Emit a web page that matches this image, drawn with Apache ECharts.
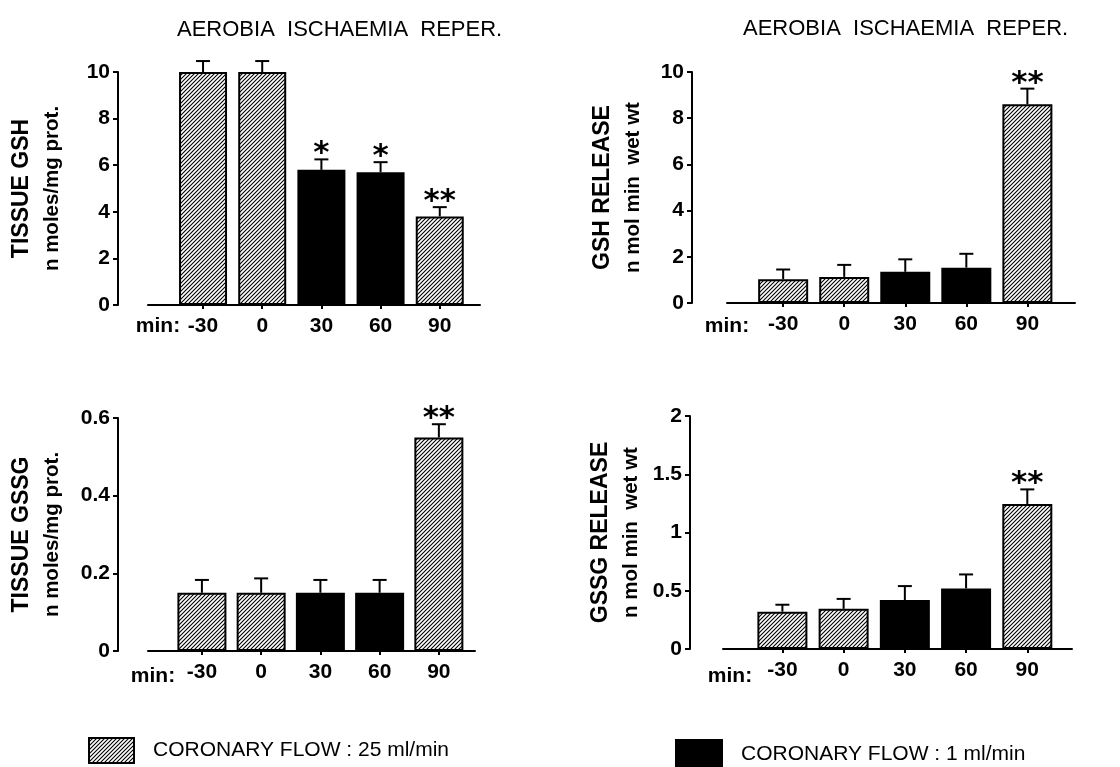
<!DOCTYPE html>
<html><head><meta charset="utf-8">
<script src="https://cdn.jsdelivr.net/npm/echarts@6/dist/echarts.min.js"></script>
<style>html,body{margin:0;padding:0;background:#fff}#c{width:1120px;height:767px}</style>
</head><body><div id="c"></div>
<script>
// ---------------- data ----------------
const categories = ['-30', '0', '30', '60', '90'];
const flowOfCategory = [25, 25, 1, 1, 25];           // coronary flow (ml/min) for each time point
const flowNames = { 25: 'CORONARY FLOW : 25 ml/min', 1: 'CORONARY FLOW : 1 ml/min' };
const phaseTitle = 'AEROBIA  ISCHAEMIA  REPER.';
const axisPrefix = 'min:';

const tissueGSH      = [10.0, 10.0, 5.8, 5.7, 3.8];
const tissueGSHErr   = [0.47, 0.47, 0.45, 0.43, 0.40];
const tissueGSHStars = ['', '', '*', '*', '**'];
const tissueGSHTicks = { max: 10, interval: 2 };

const gshRelease      = [1.03, 1.13, 1.35, 1.53, 8.6];
const gshReleaseErr   = [0.42, 0.52, 0.54, 0.60, 0.68];
const gshReleaseStars = ['', '', '', '', '**'];
const gshReleaseTicks = { max: 10, interval: 2 };

const tissueGSSG      = [0.15, 0.15, 0.15, 0.15, 0.55];
const tissueGSSGErr   = [0.033, 0.037, 0.033, 0.033, 0.034];
const tissueGSSGStars = ['', '', '', '', '**'];
const tissueGSSGTicks = { max: 0.6, interval: 0.2 };

const gssgRelease      = [0.32, 0.345, 0.42, 0.52, 1.245];
const gssgReleaseErr   = [0.06, 0.085, 0.12, 0.12, 0.125];
const gssgReleaseStars = ['', '', '', '', '**'];
const gssgReleaseTicks = { max: 2, interval: 0.5 };

// ---------------- layout / styles ----------------
const FONT = '"Liberation Sans", Arial, Helvetica, sans-serif';
const STAR_FONT = 'bold 31px "DejaVu Sans", sans-serif';

function hatchCanvas() {
  const s = 4;
  const c = document.createElement('canvas');
  c.width = s; c.height = s;
  const g = c.getContext('2d');
  g.fillStyle = '#fff'; g.fillRect(0, 0, s, s);
  g.strokeStyle = '#000'; g.lineWidth = 1.1;
  g.beginPath();
  g.moveTo(-1, s + 1); g.lineTo(s + 1, -1);
  g.moveTo(-1, 1); g.lineTo(1, -1);
  g.moveTo(s - 1, s + 1); g.lineTo(s + 1, s - 1);
  g.stroke();
  return c;
}
const hatch = { image: hatchCanvas(), repeat: 'repeat' };

const panels = [
  { values: tissueGSH, errs: tissueGSHErr, stars: tissueGSHStars, ticks: tissueGSHTicks,
    name1: 'TISSUE GSH', name2: 'n moles/mg prot.',
    grid: { left: 148, top: 72, width: 332, height: 233 }, yOffset: 30, xMin: -0.93, xMax: 4.68,
    barWidth: 48, nameGap: 51, minPos: [158, 326] },
  { values: gshRelease, errs: gshReleaseErr, stars: gshReleaseStars, ticks: gshReleaseTicks,
    name1: 'GSH RELEASE', name2: 'n mol min  wet wt',
    grid: { left: 727, top: 72, width: 348, height: 231 }, yOffset: 35, xMin: -0.92, xMax: 4.78,
    barWidth: 50, nameGap: 44, minPos: [727, 326] },
  { values: tissueGSSG, errs: tissueGSSGErr, stars: tissueGSSGStars, ticks: tissueGSSGTicks,
    name1: 'TISSUE GSSG', name2: 'n moles/mg prot.',
    grid: { left: 148, top: 418, width: 327, height: 233 }, yOffset: 30, xMin: -0.91, xMax: 4.61,
    barWidth: 49, nameGap: 51, minPos: [153, 676] },
  { values: gssgRelease, errs: gssgReleaseErr, stars: gssgReleaseStars, ticks: gssgReleaseTicks,
    name1: 'GSSG RELEASE', name2: 'n mol min  wet wt',
    grid: { left: 723, top: 416, width: 349, height: 233 }, yOffset: 33, xMin: -0.97, xMax: 4.73,
    barWidth: 50, nameGap: 44, minPos: [730, 676] }
];

const idx = categories.map((c, k) => k);
const grids = [], xAxes = [], yAxes = [], series = [], graphics = [];

panels.forEach((p, i) => {
  grids.push(Object.assign({ containLabel: false }, p.grid));
  xAxes.push({
    type: 'value', gridIndex: i, min: p.xMin, max: p.xMax,
    axisLine: { show: true, onZero: false, lineStyle: { color: '#000', width: 2 } },
    splitLine: { show: false },
    axisTick: { show: true, customValues: idx, length: 4, lineStyle: { color: '#000', width: 2 } },
    axisLabel: { customValues: idx, formatter: v => categories[Math.round(v)], margin: 11,
      fontSize: 21, fontWeight: 'bold', color: '#000', fontFamily: FONT }
  });
  yAxes.push({
    type: 'value', gridIndex: i, min: 0, max: p.ticks.max, interval: p.ticks.interval, offset: p.yOffset,
    axisLine: { show: true, onZero: false, lineStyle: { color: '#000', width: 2 } },
    axisTick: { show: true, length: 5, lineStyle: { color: '#000', width: 2 } },
    splitLine: { show: false },
    axisLabel: { margin: 8, fontSize: 21, fontWeight: 'bold', color: '#000', fontFamily: FONT },
    name: '{a|' + p.name1 + '}\n{b|' + p.name2 + '}',
    nameLocation: 'middle', nameRotate: 90, nameGap: p.nameGap,
    nameTextStyle: { color: '#000', rich: {
      a: { fontSize: 23, fontWeight: 'bold', fontFamily: FONT, color: '#000', lineHeight: 30 },
      b: { fontSize: 20.5, fontWeight: 'bold', fontFamily: FONT, color: '#000', lineHeight: 30 }
    } }
  });
  [25, 1].forEach(flow => {
    series.push({
      type: 'bar', name: flowNames[flow], xAxisIndex: i, yAxisIndex: i,
      barWidth: p.barWidth, barGap: '-100%',
      data: idx.filter(k => flowOfCategory[k] === flow).map(k => [k, p.values[k]]),
      itemStyle: { color: flow === 25 ? hatch : '#000', borderColor: '#000', borderWidth: 2 },
      emphasis: { disabled: true }, silent: true
    });
  });
  series.push({
    type: 'custom', xAxisIndex: i, yAxisIndex: i, z: 5, silent: true,
    data: idx.map(k => [k, p.values[k], p.errs[k]]),
    renderItem: (params, api) => {
      const x = api.value(0), v = api.value(1), e = api.value(2);
      const b = api.coord([x, v]), t = api.coord([x, v + e]);
      const ch = [
        { type: 'line', shape: { x1: b[0], y1: b[1], x2: t[0], y2: t[1] }, style: { stroke: '#000', lineWidth: 2 } },
        { type: 'line', shape: { x1: t[0] - 7, y1: t[1], x2: t[0] + 7, y2: t[1] }, style: { stroke: '#000', lineWidth: 2 } }
      ];
      const s = p.stars[params.dataIndex];
      if (s) ch.push({ type: 'text', x: t[0], y: t[1] - 5,
        style: { text: s, align: 'center', verticalAlign: 'middle', font: STAR_FONT, fill: '#000' } });
      return { type: 'group', children: ch };
    }
  });
  graphics.push({ type: 'text', x: p.minPos[0], y: p.minPos[1],
    style: { text: axisPrefix, align: 'center', verticalAlign: 'middle',
      font: 'bold 21px ' + FONT, fill: '#000' } });
});

const legendText = { fontSize: 21, fontFamily: FONT, color: '#000',
  rich: { t: { fontSize: 21, fontFamily: FONT, color: '#000', padding: [0, 0, 0, 14] } } };

const option = {
  backgroundColor: '#fff',
  animation: false,
  title: [
    { text: phaseTitle, left: 172, top: 14, textStyle: { fontSize: 22, fontWeight: 'normal', fontFamily: FONT, color: '#000' } },
    { text: phaseTitle, left: 738, top: 13, textStyle: { fontSize: 22, fontWeight: 'normal', fontFamily: FONT, color: '#000' } }
  ],
  legend: [
    { data: [flowNames[25]], left: 83, top: 732, itemWidth: 45, itemHeight: 25, icon: 'rect',
      selectedMode: false, formatter: n => '{t|' + n + '}', textStyle: legendText },
    { data: [flowNames[1]], left: 670, top: 734, itemWidth: 46, itemHeight: 28, icon: 'rect',
      selectedMode: false, formatter: n => '{t|' + n + '}', textStyle: legendText }
  ],
  grid: grids, xAxis: xAxes, yAxis: yAxes, series: series, graphic: graphics
};

const chart = echarts.init(document.getElementById('c'), null, { renderer: 'canvas' });
chart.setOption(option);
</script></body></html>
